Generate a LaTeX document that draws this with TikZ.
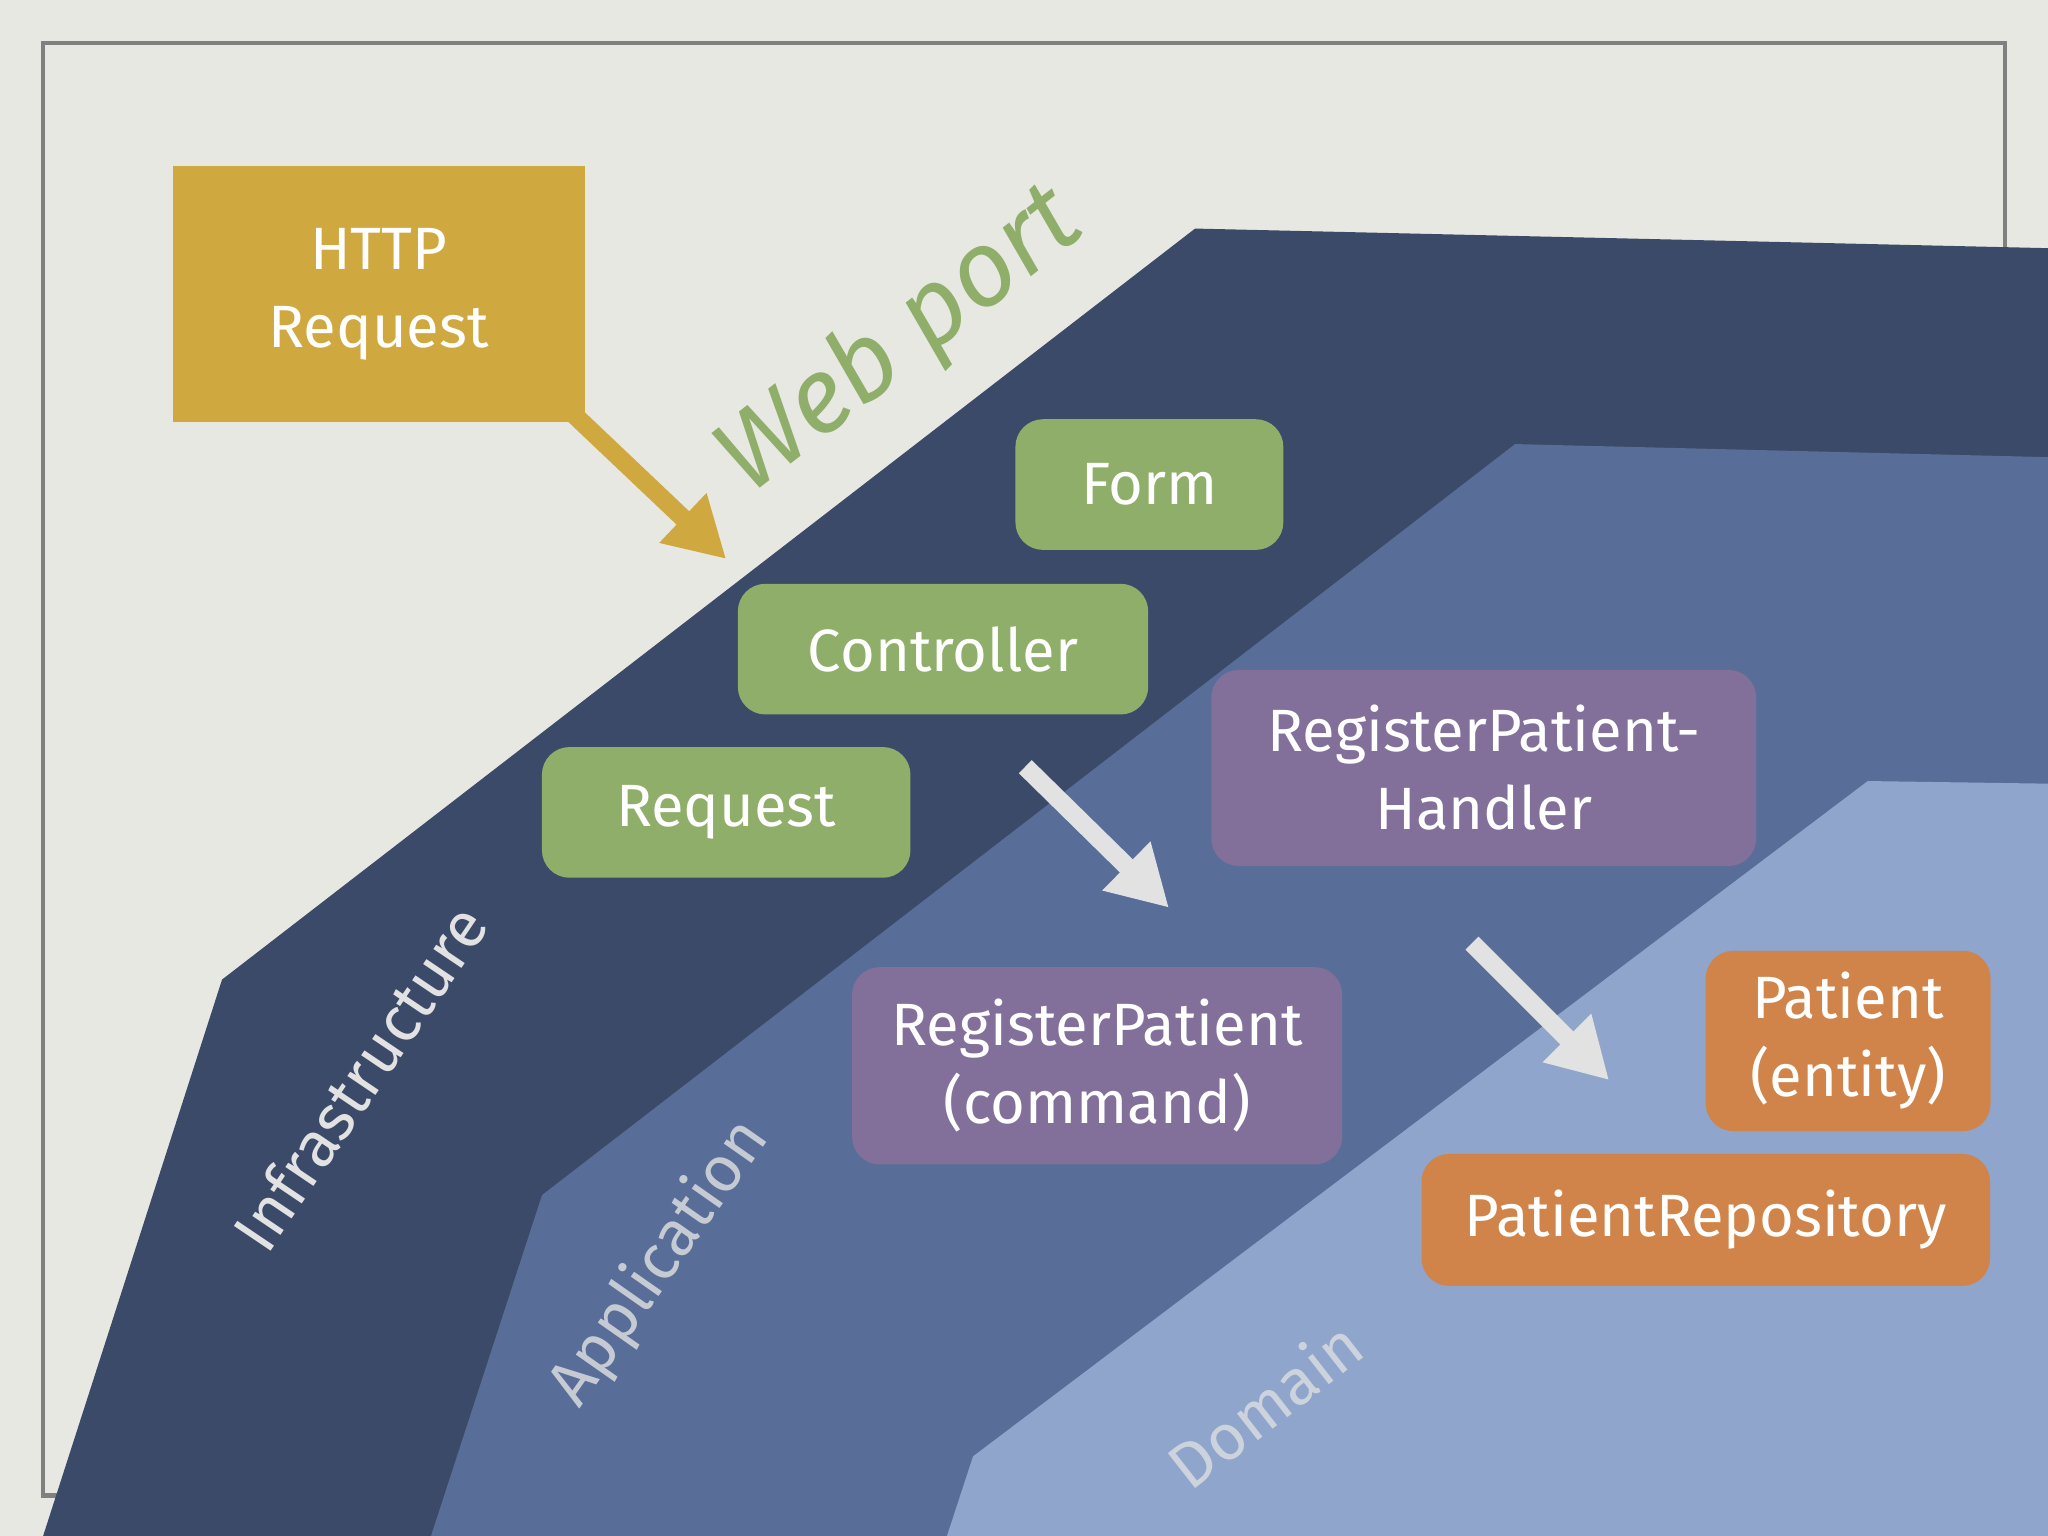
\documentclass[tikz,border=0pt]{standalone}
\usepackage{fontspec}
\setmainfont{Fira Sans}
\usetikzlibrary{arrows.meta}
\definecolor{bg}{HTML}{E8E8E3}
\definecolor{infra}{HTML}{3B4A68}
\definecolor{appl}{HTML}{586E98}
\definecolor{dom}{HTML}{8FA5CB}
\definecolor{grn}{HTML}{8FAE6A}
\definecolor{purp}{HTML}{82709A}
\definecolor{orng}{HTML}{D0844A}
\definecolor{gold}{HTML}{CFA83F}
\definecolor{arrw}{HTML}{E2E2E2}
\begin{document}
\begin{tikzpicture}[x=0.01cm,y=-0.01cm,
  box/.style={rounded corners=6pt,text=white,align=center,font=\fontsize{13}{17}\selectfont},
  lbl/.style={font=\fontsize{14}{18}\selectfont},
  arr/.style={line width=4pt,-{Triangle[length=13pt,width=14pt]}}]
\fill[bg] (0,0) rectangle (1568,1176);
\draw[gray,line width=1pt] (33,33) rectangle (1535,1145);
\fill[infra] (33,1176) -- (170,750) -- (915,175) -- (1568,190) -- (1568,1176) -- cycle;
\fill[appl] (330,1176) -- (415,915) -- (1160,340) -- (1568,350) -- (1568,1176) -- cycle;
\fill[dom] (725,1176) -- (745,1115) -- (1430,598) -- (1568,600) -- (1568,1176) -- cycle;
\node[fill=gold,text=white,align=center,font=\fontsize{13}{17}\selectfont,minimum width=3.15cm,minimum height=1.96cm] (http) at (290,225) {HTTP\\Request};
\coordinate (ha) at (440,318);
\coordinate (hb) at (556,428);
\draw[gold,arr] (ha) -- (hb);
\node[box,fill=grn,minimum width=2.05cm,minimum height=1cm] (form) at (880,371) {Form};
\node[box,fill=grn,minimum width=3.14cm,minimum height=1cm] (ctrl) at (722,497) {Controller};
\node[box,fill=grn,minimum width=2.82cm,minimum height=1cm] (req) at (556,622) {Request};
\node[box,fill=purp,minimum width=4.17cm,minimum height=1.5cm] (hnd) at (1136,588) {RegisterPatient-\\Handler};
\node[box,fill=purp,minimum width=3.75cm,minimum height=1.51cm] (cmd) at (840,816) {RegisterPatient\\(command)};
\node[box,fill=orng,minimum width=2.18cm,minimum height=1.38cm] (pat) at (1415,797) {Patient\\(entity)};
\node[box,fill=orng,minimum width=4.35cm,minimum height=1.01cm] (repo) at (1306,934) {PatientRepository};
\coordinate (a1) at (785,587); \coordinate (a2) at (895,695);
\coordinate (b1) at (1127,722); \coordinate (b2) at (1232,827);
\draw[arrw,arr] (a1) -- (a2);
\draw[arrw,arr] (b1) -- (b2);
\node[text=grn,rotate=38,font=\fontsize{23}{26}\selectfont\itshape] (web) at (690,262) {Web port};
\node[lbl,text=arrw,rotate=56] (inf) at (275,825) {Infrastructure};
\node[lbl,text=arrw!80!appl,rotate=55] (app) at (505,967) {Application};
\node[lbl,text=arrw!75!dom,rotate=38] (dm) at (968,1075) {Domain};
\end{tikzpicture}
\end{document}
